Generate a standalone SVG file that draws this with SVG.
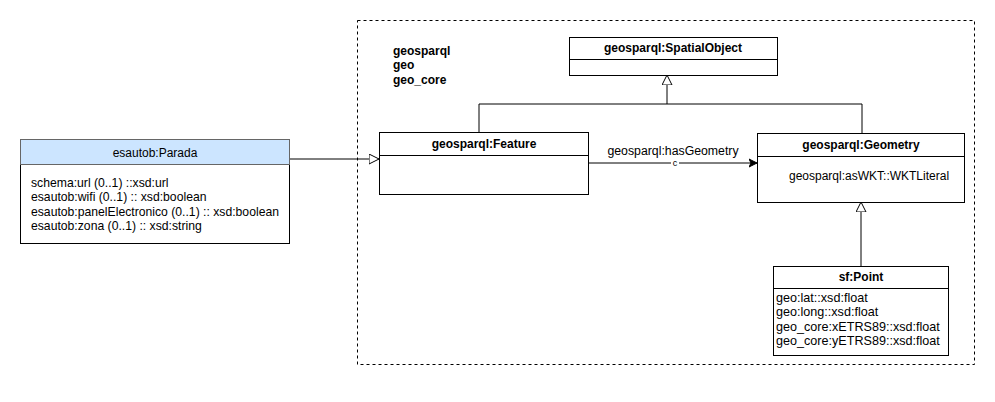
<svg xmlns="http://www.w3.org/2000/svg" width="995" height="402" viewBox="0 0 995 402">
<style>
.box{fill:#ffffff;stroke:#000000;stroke-width:1}
.t{font-family:"Liberation Sans",Arial,sans-serif;font-size:12px;fill:#000}
.b{font-weight:bold;font-size:12px}
.c{text-anchor:middle}
.ln{fill:none;stroke:#000;stroke-width:1}
.pa{font-size:12.2px}
.pt{font-size:12.6px}
</style>
<defs>
<marker id="gen" markerWidth="12" markerHeight="12" refX="10" refY="5" orient="auto" markerUnits="userSpaceOnUse" viewBox="0 0 12 12">
<path d="M0,0 L10,5 L0,10 Z" fill="#fff" stroke="#000" stroke-width="1"/>
</marker>
<marker id="arr" markerWidth="10" markerHeight="10" refX="8" refY="4" orient="auto" markerUnits="userSpaceOnUse" viewBox="0 0 10 8">
<path d="M0,0 L8,4 L0,8 L2,4 Z" fill="#000" stroke="#000" stroke-width="1"/>
</marker>
</defs>
<rect width="995" height="402" fill="#ffffff"/>
<g id="package">
<rect x="357.5" y="20.5" width="617" height="344" fill="none" stroke="#000" stroke-dasharray="3,3"/>
<text class="t b" x="393" y="55">geosparql</text>
<text class="t b" x="393" y="69">geo</text>
<text class="t b" x="393" y="84">geo_core</text>
</g>
<g id="connectors">
<path class="ln" d="M290,159 L379,159" marker-end="url(#gen)"/>
<path class="ln" d="M479,132 L479,104 L862,104 L862,133"/>
<path class="ln" d="M667,104 L667,75" marker-end="url(#gen)"/>
<path class="ln" d="M861,267 L861,202" marker-end="url(#gen)"/>
<path class="ln" d="M588,163 L757,163" marker-end="url(#arr)"/>
<text class="t c" x="673" y="155" style="font-size:12.3px">geosparql:hasGeometry</text>
<rect x="671" y="159" width="8" height="8" fill="#fff"/>
<text class="t c" x="675" y="166" style="font-size:9px">c</text>
</g>
<g id="parada">
<rect x="20.5" y="139.5" width="269" height="104" class="box" stroke="#666"/>
<rect x="20.5" y="139.5" width="269" height="25" fill="#cce5ff" stroke="#666"/>
<text class="t c" x="155" y="157">esautob:Parada</text>
<text class="t pa" x="31" y="187">schema:url (0..1) ::xsd:url</text>
<text class="t pa" x="31" y="201">esautob:wifi (0..1) :: xsd:boolean</text>
<text class="t pa" x="31" y="216">esautob:panelElectronico (0..1) :: xsd:boolean</text>
<text class="t pa" x="31" y="230">esautob:zona (0..1) :: xsd:string</text>
</g>
<g id="spatialobject">
<rect x="569.5" y="37.5" width="208" height="38" class="box"/>
<line x1="569.5" y1="59.5" x2="777.5" y2="59.5" class="ln"/>
<text class="t b c" x="673" y="52">geosparql:SpatialObject</text>
</g>
<g id="feature">
<rect x="379.5" y="132.5" width="209" height="62" class="box"/>
<line x1="379.5" y1="155.5" x2="588.5" y2="155.5" class="ln"/>
<text class="t b c" x="484" y="148">geosparql:Feature</text>
</g>
<g id="geometry">
<rect x="757.5" y="133.5" width="207" height="69" class="box"/>
<line x1="757.5" y1="156.5" x2="964.5" y2="156.5" class="ln"/>
<text class="t b c" x="861" y="149">geosparql:Geometry</text>
<text class="t" x="789" y="180">geosparql:asWKT::WKTLiteral</text>
</g>
<g id="point">
<rect x="773.5" y="266.5" width="175" height="89" class="box"/>
<line x1="773.5" y1="288.5" x2="948.5" y2="288.5" class="ln"/>
<text class="t b c" x="861" y="281">sf:Point</text>
<text class="t pt" x="776" y="302">geo:lat::xsd:float</text>
<text class="t pt" x="776" y="316">geo:long::xsd:float</text>
<text class="t pt" x="776" y="331">geo_core:xETRS89::xsd:float</text>
<text class="t pt" x="776" y="345">geo_core:yETRS89::xsd:float</text>
</g>
</svg>
